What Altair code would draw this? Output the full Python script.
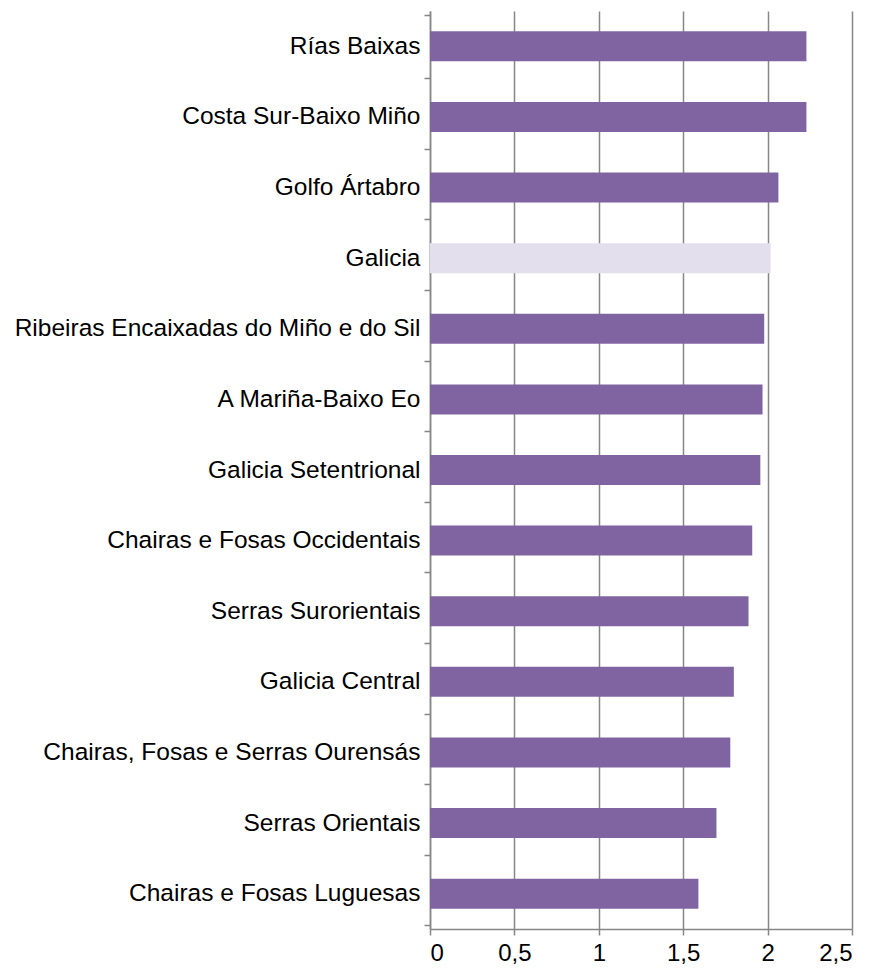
import altair as alt
import pandas as pd

categories = [
    "Rías Baixas",
    "Costa Sur-Baixo Miño",
    "Golfo Ártabro",
    "Galicia",
    "Ribeiras Encaixadas do Miño e do Sil",
    "A Mariña-Baixo Eo",
    "Galicia Setentrional",
    "Chairas e Fosas Occidentais",
    "Serras Surorientais",
    "Galicia Central",
    "Chairas, Fosas e Serras Ourensás",
    "Serras Orientais",
    "Chairas e Fosas Luguesas",
]
values = [2.23, 2.23, 2.064, 2.018, 1.98, 1.97, 1.957, 1.909, 1.887, 1.80, 1.779, 1.697, 1.59]
highlight = ["Galicia"]
x_ticks = [0, 0.5, 1, 1.5, 2, 2.5]

df = pd.DataFrame({"zona": categories, "valor": values})
df["tipo"] = ["galicia" if c in highlight else "zona" for c in categories]

chart = (
    alt.Chart(df)
    .mark_bar(size=30)
    .encode(
        y=alt.Y(
            "zona:N",
            sort=categories,
            title=None,
            axis=alt.Axis(
                tickBand="extent",
                domainColor="#868686",
                domainWidth=1.5,
                tickColor="#868686",
                tickWidth=1.5,
                tickSize=6,
                labelPadding=4,
                labelFontSize=24.5,
                labelFont="Liberation Sans",
                labelColor="#000000",
                labelLimit=500,
                grid=False,
            ),
        ),
        x=alt.X(
            "valor:Q",
            title=None,
            scale=alt.Scale(domain=[0, 2.5], nice=False),
            axis=alt.Axis(
                values=x_ticks,
                labelExpr="replace(toString(datum.value), '.', ',')",
                grid=True,
                gridColor="#868686",
                gridWidth=1.5,
                domainColor="#868686",
                domainWidth=1.5,
                tickColor="#868686",
                tickWidth=1.5,
                tickSize=6,
                labelPadding=6,
                labelFontSize=24,
                labelFont="Liberation Sans",
                labelColor="#000000",
            ),
        ),
        color=alt.Color(
            "tipo:N",
            scale=alt.Scale(domain=["zona", "galicia"], range=["#8064A2", "#E4DFEC"]),
            legend=None,
        ),
    )
    .properties(
        width=422,
        height=918,
        autosize=alt.AutoSizeParams(type="none"),
        padding={"left": 422, "top": 3, "right": 12, "bottom": 39},
    )
    .configure_view(stroke=None)
)

chart.save("out.html", embed_options={"renderer": "svg", "actions": False})
